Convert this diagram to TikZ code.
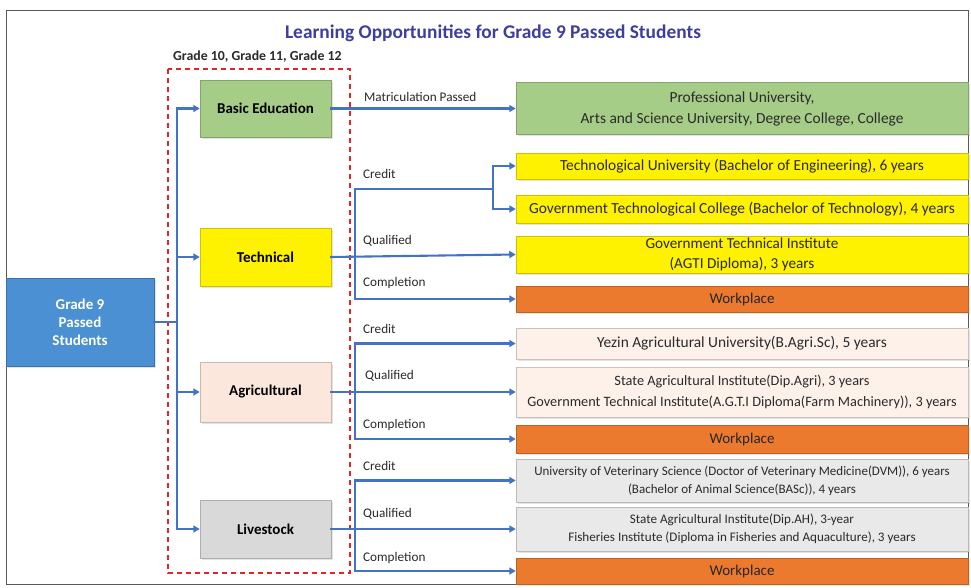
\documentclass[tikz,border=0pt]{standalone}
\usepackage{fontspec}
\setmainfont{Carlito}
\usetikzlibrary{arrows.meta,shadows}
\definecolor{cgreen}{HTML}{A6CD88}
\definecolor{cyellow}{HTML}{FFF200}
\definecolor{corange}{HTML}{EC7A2E}
\definecolor{cpeach}{HTML}{FBE7DB}
\definecolor{cpeachl}{HTML}{FDF1EA}
\definecolor{cgray}{HTML}{D9D9D9}
\definecolor{cgrayl}{HTML}{E9E9E9}
\definecolor{cblue}{HTML}{4A90D2}
\definecolor{cline}{HTML}{4472C4}
\definecolor{cred}{HTML}{E02626}
\definecolor{ctitle}{HTML}{3E3E9E}
\definecolor{ctext}{HTML}{2A2A2A}
\begin{document}
\begin{tikzpicture}[x=1pt,y=-1pt,
  box/.style={draw=#1!80!black, line width=0.5pt, fill=#1, inner sep=2pt, align=center,
    drop shadow={opacity=0.22, shadow xshift=1.5pt, shadow yshift=-2pt}},
  lbox/.style={box=#1, font=\fontsize{15}{17}\selectfont\bfseries, text=black, minimum width=131pt},
  rbox/.style={box=#1, font=\fontsize{15.4}{21}\selectfont, text=ctext, minimum width=452pt},
  wbox/.style={rbox=corange, font=\fontsize{15}{17}\selectfont, text=black!85},
  conn/.style={draw=cline, line width=2.1pt, line cap=rect},
  arr/.style={conn, -{Triangle[length=6.5pt,width=7pt]}},
  tag/.style={anchor=west, font=\fontsize{13.2}{15}\selectfont, text=ctext, inner sep=0pt}
]
\useasboundingbox (0,0) rectangle (971,588);
\fill[white] (0,0) rectangle (971,588);
\draw[gray!70!black, line width=1pt] (6,11) rectangle (968,584);

% title
\node[font=\fontsize{19.4}{22}\selectfont\bfseries, text=ctitle] (title) at (493,33) {Learning Opportunities for Grade 9 Passed Students};
\node[anchor=west, font=\fontsize{13.8}{15}\selectfont\bfseries, text=ctext, inner sep=0pt] (grades) at (173,57) {Grade 10, Grade 11, Grade 12};

% red dashed frame
\draw[cred, line width=1.6pt, dash pattern=on 5pt off 4pt] (168,69) rectangle (350,573);

% left boxes
\node[box=cblue, minimum width=148pt, minimum height=88pt, text=white, font=\fontsize{15}{18}\selectfont\bfseries] (g9) at (80,322) {Grade 9\\Passed\\Students};
\node[lbox=cgreen, minimum height=57pt] (basic) at (265.5,108.5) {Basic Education};
\node[lbox=cyellow, minimum height=58pt] (tech) at (265.5,257) {Technical};
\node[lbox=cpeach, minimum height=60pt] (agri) at (265.5,392) {Agricultural};
\node[lbox=cgray, minimum height=58pt] (live) at (265.5,529) {Livestock};

% right boxes
\node[rbox=cgreen, minimum height=52pt] (prof) at (742,108.5) {Professional University,\\Arts and Science University, Degree College, College};
\node[rbox=cyellow, minimum height=26pt] (tu) at (742,166) {Technological University (Bachelor of Engineering), 6 years};
\node[rbox=cyellow, minimum height=28pt] (gtc) at (742,209) {Government Technological College (Bachelor of Technology), 4 years};
\node[rbox=cyellow, minimum height=37pt, font=\fontsize{15.2}{20}\selectfont] (gti) at (742,254.5) {Government Technical Institute\\(AGTI Diploma), 3 years};
\node[wbox, minimum height=26pt] (wp1) at (742,299) {Workplace};
\node[rbox=cpeachl, minimum height=31pt] (yezin) at (742,343.5) {Yezin Agricultural University(B.Agri.Sc), 5 years};
\node[rbox=cpeachl, minimum height=50pt, font=\fontsize{14.3}{21}\selectfont] (sai) at (742,392) {State Agricultural Institute(Dip.Agri), 3 years\\Government Technical Institute(A.G.T.I Diploma(Farm Machinery)), 3 years};
\node[wbox, minimum height=28pt] (wp2) at (742,439) {Workplace};
\node[rbox=cgrayl, minimum height=43pt, font=\fontsize{13}{18}\selectfont] (uvs) at (742,480.5) {University of Veterinary Science (Doctor of Veterinary Medicine(DVM)), 6 years\\(Bachelor of Animal Science(BASc)), 4 years};
\node[rbox=cgrayl, minimum height=44pt, font=\fontsize{13.1}{18}\selectfont] (sai2) at (742,529) {State Agricultural Institute(Dip.AH), 3-year\\Fisheries Institute (Diploma in Fisheries and Aquaculture), 3 years};
\node[wbox, minimum height=26pt] (wp3) at (742,571) {Workplace};

% left tree
\coordinate (lt) at (177,108.5);
\coordinate (lm) at (177,322);
\coordinate (lb) at (177,529);
\draw[conn] (g9.east) -- (lm);
\draw[conn] (lt) -- (lb);
\draw[arr] (lt) -- (basic.west);
\draw[arr] (tech.west -| lt) -- (tech.west);
\draw[arr] (agri.west -| lt) -- (agri.west);
\draw[arr] (lb) -- (live.west);

% basic education
\draw[arr] (basic.east) -- (prof.west);
\node[tag] (mp) at (364,97) {Matriculation Passed};

% technical
\coordinate (tc) at (355,189);
\coordinate (tcp) at (355,299);
\coordinate (fork) at (493,189);
\coordinate (forkt) at (493,166);
\coordinate (forkb) at (493,209);
\draw[conn] (tc) -- (tcp);
\draw[conn] (tc) -- (fork);
\draw[conn] (forkt) -- (forkb);
\draw[arr] (forkt) -- (tu.west);
\draw[arr] (forkb) -- (gtc.west);
\draw[arr] (tech.east) -- (gti.west);
\draw[arr] (tcp) -- (wp1.west);
\node[tag] (c1) at (363,174) {Credit};
\node[tag] (q1) at (363,241) {Qualified};
\node[tag] (k1) at (363,283) {Completion};

% agricultural
\coordinate (ac) at (355,343.5);
\coordinate (acp) at (355,439);
\draw[conn] (ac) -- (acp);
\draw[arr] (ac) -- (yezin.west);
\draw[arr] (agri.east) -- (sai.west);
\draw[arr] (acp) -- (wp2.west);
\node[tag] (c2) at (363,329) {Credit};
\node[tag] (q2) at (365,376) {Qualified};
\node[tag] (k2) at (363,425) {Completion};

% livestock
\coordinate (vc) at (355,480.5);
\coordinate (vcp) at (355,571);
\draw[conn] (vc) -- (vcp);
\draw[arr] (vc) -- (uvs.west);
\draw[arr] (live.east) -- (sai2.west);
\draw[arr] (vcp) -- (wp3.west);
\node[tag] (c3) at (363,466) {Credit};
\node[tag] (q3) at (363,514) {Qualified};
\node[tag] (k3) at (363,558) {Completion};
\end{tikzpicture}
\end{document}
